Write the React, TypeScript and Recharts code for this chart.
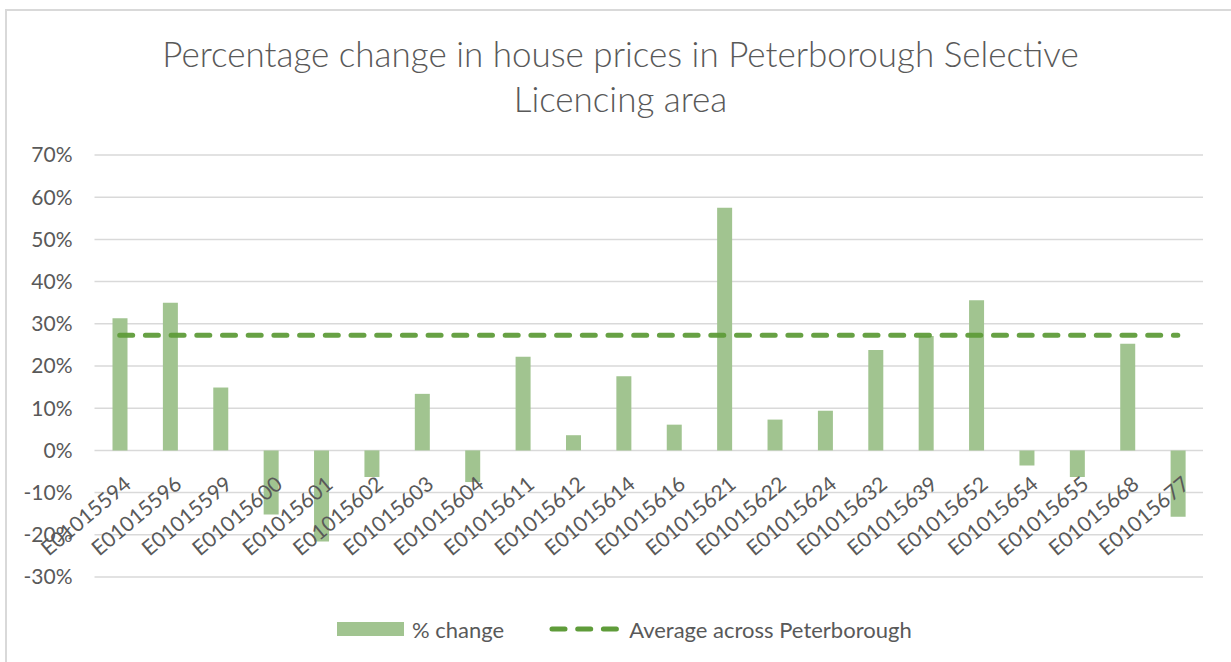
import { Bar, CartesianGrid, ComposedChart, Line, XAxis, YAxis } from "recharts";

const areaCodes = [
  "E01015594", "E01015596", "E01015599", "E01015600", "E01015601", "E01015602",
  "E01015603", "E01015604", "E01015611", "E01015612", "E01015614", "E01015616",
  "E01015621", "E01015622", "E01015624", "E01015632", "E01015639", "E01015652",
  "E01015654", "E01015655", "E01015668", "E01015677",
];

const percentChange = [
  0.313, 0.35, 0.149, -0.152, -0.216, -0.063,
  0.134, -0.075, 0.222, 0.036, 0.176, 0.061,
  0.575, 0.073, 0.094, 0.238, 0.271, 0.356,
  -0.036, -0.063, 0.253, -0.157,
];

const averageAcrossPeterborough = 0.273;

const yTicks = [-0.3, -0.2, -0.1, 0, 0.1, 0.2, 0.3, 0.4, 0.5, 0.6, 0.7];

const data = areaCodes.map((code, i) => ({
  code,
  change: percentChange[i],
  avg: averageAcrossPeterborough,
}));

const W = 1231;
const H = 662;
const TOP = 155;
const BOTTOM = 84;
const X_AXIS_H = 1;
const Y_MIN = -0.3;
const Y_MAX = 0.7;
const PLOT_H = H - TOP - BOTTOM - X_AXIS_H;

const FONT = "Lato, 'Open Sans', sans-serif";
const TEXT = "#595959";
const BAR = "#a1c490";
const LINE = "#5f9c3a";

// labels hang under the 0% line, not at the bottom of the plot
function CodeTick(props: { x?: number; payload?: { value: string } }) {
  const { x = 0, payload } = props;
  const zeroY = TOP + (PLOT_H * (Y_MAX - 0)) / (Y_MAX - Y_MIN);
  const ax = x + 13;
  const ay = zeroY + 36;
  return (
    <text
      x={ax}
      y={ay}
      textAnchor="end"
      transform={`rotate(-40, ${ax}, ${ay})`}
      fill={TEXT}
      fontSize={21}
      fontFamily={FONT}
    >
      {payload?.value}
    </text>
  );
}

export default function App() {
  return (
    <div
      style={{
        position: "absolute",
        left: 0,
        top: 0,
        width: W,
        height: H,
        overflow: "hidden",
        background: "#fff",
        fontFamily: FONT,
      }}
    >
      <div
        style={{
          position: "absolute",
          left: 5,
          top: 9,
          width: W + 20,
          height: H + 20,
          border: "2px solid #d9d9d9",
          boxSizing: "border-box",
        }}
      />
      <div
        style={{
          position: "absolute",
          left: 0,
          top: 31,
          width: 1241,
          textAlign: "center",
          color: TEXT,
          fontSize: 35,
          fontWeight: 300,
          lineHeight: "45px",
        }}
      >
        Percentage change in house prices in Peterborough Selective
        <br />
        Licencing area
      </div>

      <ComposedChart
        width={W}
        height={H}
        data={data}
        margin={{ top: TOP, right: 28, bottom: BOTTOM, left: 0 }}
        style={{ position: "absolute", left: 0, top: 0 }}
      >
        <CartesianGrid vertical={false} stroke="#d9d9d9" strokeWidth={1.5} />
        <YAxis
          domain={[Y_MIN, Y_MAX]}
          ticks={yTicks}
          width={94.5}
          axisLine={false}
          tickLine={false}
          tickMargin={16}
          tickFormatter={(v: number) => `${Math.round(v * 100)}%`}
          tick={{ fill: TEXT, fontSize: 21, fontFamily: FONT }}
        />
        <XAxis
          dataKey="code"
          height={X_AXIS_H}
          interval={0}
          axisLine={false}
          tickLine={false}
          tick={<CodeTick />}
        />
        <Bar dataKey="change" fill={BAR} barSize={15} isAnimationActive={false} />
        <Line
          dataKey="avg"
          stroke={LINE}
          strokeWidth={5}
          strokeLinecap="round"
          strokeDasharray="13 12.7"
          strokeOpacity={0.95}
          dot={false}
          activeDot={false}
          isAnimationActive={false}
        />
      </ComposedChart>

      <div
        style={{
          position: "absolute",
          left: 0,
          top: 614,
          width: W,
          height: 30,
          display: "flex",
          alignItems: "center",
          color: TEXT,
          fontSize: 22,
        }}
      >
        <div style={{ marginLeft: 337, width: 67, height: 14, background: BAR }} />
        <span style={{ marginLeft: 8 }}>% change</span>
        <svg width={72} height={10} style={{ marginLeft: 45 }}>
          <line
            x1={3}
            y1={5}
            x2={70}
            y2={5}
            stroke={LINE}
            strokeWidth={5}
            strokeLinecap="round"
            strokeDasharray="13 12.7"
          />
        </svg>
        <span style={{ marginLeft: 8 }}>Average across Peterborough</span>
      </div>
    </div>
  );
}
